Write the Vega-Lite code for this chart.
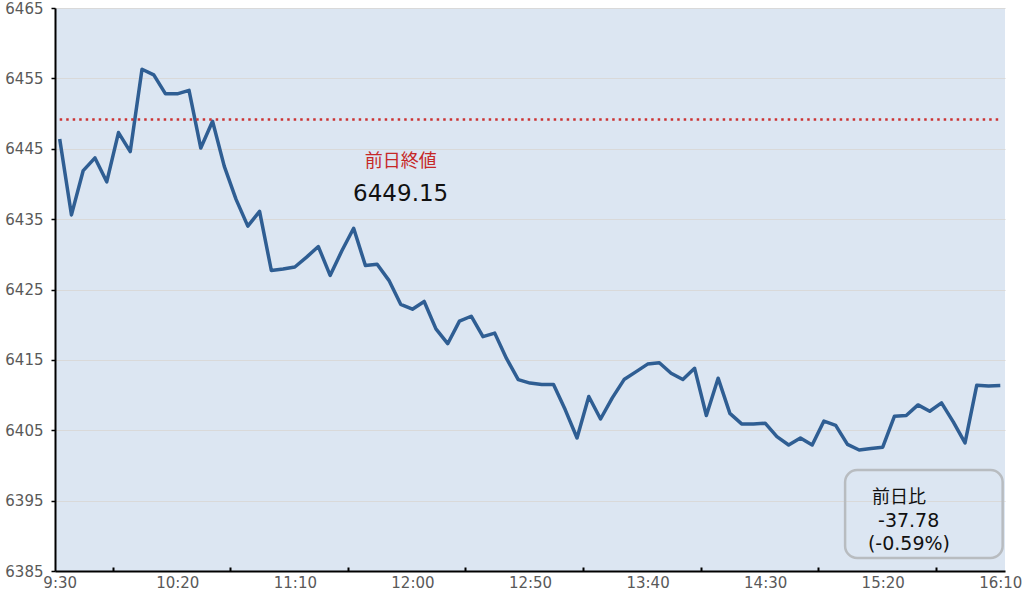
{
  "$schema": "https://vega.github.io/schema/vega-lite/v6.json",
  "width": 950,
  "height": 563,
  "autosize": {"type": "none"},
  "padding": {"left": 55, "top": 8, "right": 25, "bottom": 24},
  "background": "white",
  "config": {
    "view": {"fill": "#dce6f2", "stroke": null},
    "font": "DejaVu Sans, 'Noto Sans CJK JP'"
  },
  "datasets": {
    "prices": [
      {"time": "9:30", "value": 6446.4}, {"time": "9:35", "value": 6435.6}, {"time": "9:40", "value": 6441.9},
      {"time": "9:45", "value": 6443.7}, {"time": "9:50", "value": 6440.3}, {"time": "9:55", "value": 6447.3},
      {"time": "10:00", "value": 6444.6}, {"time": "10:05", "value": 6456.3}, {"time": "10:10", "value": 6455.5},
      {"time": "10:15", "value": 6452.8}, {"time": "10:20", "value": 6452.8}, {"time": "10:25", "value": 6453.3},
      {"time": "10:30", "value": 6445.1}, {"time": "10:35", "value": 6448.9}, {"time": "10:40", "value": 6442.5},
      {"time": "10:45", "value": 6437.8}, {"time": "10:50", "value": 6434.0}, {"time": "10:55", "value": 6436.1},
      {"time": "11:00", "value": 6427.7}, {"time": "11:05", "value": 6427.9}, {"time": "11:10", "value": 6428.2},
      {"time": "11:15", "value": 6429.6}, {"time": "11:20", "value": 6431.1}, {"time": "11:25", "value": 6427.0},
      {"time": "11:30", "value": 6430.5}, {"time": "11:35", "value": 6433.7}, {"time": "11:40", "value": 6428.4},
      {"time": "11:45", "value": 6428.6}, {"time": "11:50", "value": 6426.3}, {"time": "11:55", "value": 6422.9},
      {"time": "12:00", "value": 6422.2}, {"time": "12:05", "value": 6423.3}, {"time": "12:10", "value": 6419.4},
      {"time": "12:15", "value": 6417.3}, {"time": "12:20", "value": 6420.5}, {"time": "12:25", "value": 6421.2},
      {"time": "12:30", "value": 6418.3}, {"time": "12:35", "value": 6418.8}, {"time": "12:40", "value": 6415.2},
      {"time": "12:45", "value": 6412.2}, {"time": "12:50", "value": 6411.7}, {"time": "12:55", "value": 6411.5},
      {"time": "13:00", "value": 6411.5}, {"time": "13:05", "value": 6407.9}, {"time": "13:10", "value": 6403.9},
      {"time": "13:15", "value": 6409.8}, {"time": "13:20", "value": 6406.6}, {"time": "13:25", "value": 6409.6},
      {"time": "13:30", "value": 6412.2}, {"time": "13:35", "value": 6413.3}, {"time": "13:40", "value": 6414.4},
      {"time": "13:45", "value": 6414.6}, {"time": "13:50", "value": 6413.1}, {"time": "13:55", "value": 6412.2},
      {"time": "14:00", "value": 6413.8}, {"time": "14:05", "value": 6407.1}, {"time": "14:10", "value": 6412.4},
      {"time": "14:15", "value": 6407.4}, {"time": "14:20", "value": 6405.9}, {"time": "14:25", "value": 6405.9},
      {"time": "14:30", "value": 6406.0}, {"time": "14:35", "value": 6404.1}, {"time": "14:40", "value": 6402.9},
      {"time": "14:45", "value": 6403.9}, {"time": "14:50", "value": 6402.9}, {"time": "14:55", "value": 6406.3},
      {"time": "15:00", "value": 6405.7}, {"time": "15:05", "value": 6403.0}, {"time": "15:10", "value": 6402.2},
      {"time": "15:15", "value": 6402.4}, {"time": "15:20", "value": 6402.6}, {"time": "15:25", "value": 6407.0},
      {"time": "15:30", "value": 6407.1}, {"time": "15:35", "value": 6408.6}, {"time": "15:40", "value": 6407.7},
      {"time": "15:45", "value": 6408.9}, {"time": "15:50", "value": 6406.2}, {"time": "15:55", "value": 6403.2},
      {"time": "16:00", "value": 6411.4}, {"time": "16:05", "value": 6411.3}, {"time": "16:10", "value": 6411.37}
    ],
    "prev": [
      {"start": "9:30", "end": "16:10", "close": 6449.15, "label": "前日終値"}
    ],
    "change": [
      {"title": "前日比", "diff": "-37.78", "pct": "(-0.59%)"}
    ]
  },
  "layer": [
    {
      "data": {"name": "prices", "format": {"parse": {"time": "date:'%H:%M'"}}},
      "mark": {"type": "line", "color": "#2f5e93", "strokeWidth": 3.5, "strokeJoin": "round"},
      "encoding": {
        "x": {
          "field": "time", "type": "temporal",
          "scale": {"domain": [
            {"year": 1900, "month": 1, "date": 1, "hours": 9, "minutes": 28},
            {"year": 1900, "month": 1, "date": 1, "hours": 16, "minutes": 12}
          ]},
          "axis": {
            "title": null,
            "values": [
              {"year": 1900, "month": 1, "date": 1, "hours": 9, "minutes": 30},
              {"year": 1900, "month": 1, "date": 1, "hours": 10, "minutes": 20},
              {"year": 1900, "month": 1, "date": 1, "hours": 11, "minutes": 10},
              {"year": 1900, "month": 1, "date": 1, "hours": 12, "minutes": 0},
              {"year": 1900, "month": 1, "date": 1, "hours": 12, "minutes": 50},
              {"year": 1900, "month": 1, "date": 1, "hours": 13, "minutes": 40},
              {"year": 1900, "month": 1, "date": 1, "hours": 14, "minutes": 30},
              {"year": 1900, "month": 1, "date": 1, "hours": 15, "minutes": 20},
              {"year": 1900, "month": 1, "date": 1, "hours": 16, "minutes": 10}
            ],
            "format": "%-H:%M",
            "grid": false,
            "domainColor": "black", "domainWidth": 2,
            "tickColor": "black", "tickWidth": 2, "tickSize": -4,
            "tickOffset": 53, "labelOffset": -53,
            "labelPadding": 8,
            "labelFont": "DejaVu Sans", "labelFontSize": 15, "labelColor": "#595959",
            "labelOverlap": false, "labelFlush": false, "labelBound": false
          }
        },
        "y": {
          "field": "value", "type": "quantitative",
          "scale": {"domain": [6385, 6465], "nice": false, "zero": false},
          "axis": {
            "title": null,
            "values": [6385, 6395, 6405, 6415, 6425, 6435, 6445, 6455, 6465],
            "format": "d",
            "grid": true, "gridColor": "#d9d9d9", "gridWidth": 1,
            "domainColor": "black", "domainWidth": 2,
            "tickColor": "black", "tickWidth": 1.5, "tickSize": 4,
            "labelPadding": 8,
            "labelFont": "DejaVu Sans", "labelFontSize": 15, "labelColor": "#595959"
          }
        }
      }
    },
    {
      "data": {"name": "prev", "format": {"parse": {"start": "date:'%H:%M'", "end": "date:'%H:%M'"}}},
      "mark": {"type": "rule", "color": "#cc3333", "strokeWidth": 2.5, "strokeDash": [2.5, 4]},
      "encoding": {
        "x": {"field": "start", "type": "temporal"},
        "x2": {"field": "end"},
        "y": {"field": "close", "type": "quantitative"}
      }
    },
    {
      "data": {"name": "prev"},
      "mark": {"type": "text", "color": "#c62828", "fontSize": 18, "align": "center", "baseline": "middle", "font": "'Noto Sans CJK JP'"},
      "encoding": {
        "x": {"datum": {"year": 1900, "month": 1, "date": 1, "hours": 11, "minutes": 55}, "type": "temporal"},
        "y": {"datum": 6443.1, "type": "quantitative"},
        "text": {"field": "label", "type": "nominal"}
      }
    },
    {
      "data": {"name": "prev"},
      "mark": {"type": "text", "color": "#111111", "fontSize": 23, "align": "center", "baseline": "middle", "font": "DejaVu Sans"},
      "encoding": {
        "x": {"datum": {"year": 1900, "month": 1, "date": 1, "hours": 11, "minutes": 55}, "type": "temporal"},
        "y": {"datum": 6438.6, "type": "quantitative"},
        "text": {"field": "close", "type": "quantitative", "format": ".2f"}
      }
    },
    {
      "data": {"name": "change"},
      "mark": {"type": "rect", "fill": null, "fillOpacity": 0, "stroke": "#b8bcc0", "strokeWidth": 2.5, "cornerRadius": 12},
      "encoding": {
        "x": {"datum": {"year": 1900, "month": 1, "date": 1, "hours": 15, "minutes": 4}, "type": "temporal"},
        "x2": {"datum": {"year": 1900, "month": 1, "date": 1, "hours": 16, "minutes": 11}},
        "y": {"datum": 6399.35, "type": "quantitative"},
        "y2": {"datum": 6386.85}
      }
    },
    {
      "data": {"name": "change"},
      "mark": {"type": "text", "color": "#111111", "fontSize": 18, "align": "left", "baseline": "middle", "font": "'Noto Sans CJK JP'"},
      "encoding": {
        "x": {"datum": {"year": 1900, "month": 1, "date": 1, "hours": 15, "minutes": 15, "seconds": 24}, "type": "temporal"},
        "y": {"datum": 6395.37, "type": "quantitative"},
        "text": {"field": "title", "type": "nominal"}
      }
    },
    {
      "data": {"name": "change"},
      "mark": {"type": "text", "color": "#111111", "fontSize": 19, "align": "left", "baseline": "middle", "font": "DejaVu Sans"},
      "encoding": {
        "x": {"datum": {"year": 1900, "month": 1, "date": 1, "hours": 15, "minutes": 18}, "type": "temporal"},
        "y": {"datum": 6392.1, "type": "quantitative"},
        "text": {"field": "diff", "type": "nominal"}
      }
    },
    {
      "data": {"name": "change"},
      "mark": {"type": "text", "color": "#111111", "fontSize": 19, "align": "left", "baseline": "middle", "font": "DejaVu Sans"},
      "encoding": {
        "x": {"datum": {"year": 1900, "month": 1, "date": 1, "hours": 15, "minutes": 13, "seconds": 42}, "type": "temporal"},
        "y": {"datum": 6388.84, "type": "quantitative"},
        "text": {"field": "pct", "type": "nominal"}
      }
    }
  ]
}
